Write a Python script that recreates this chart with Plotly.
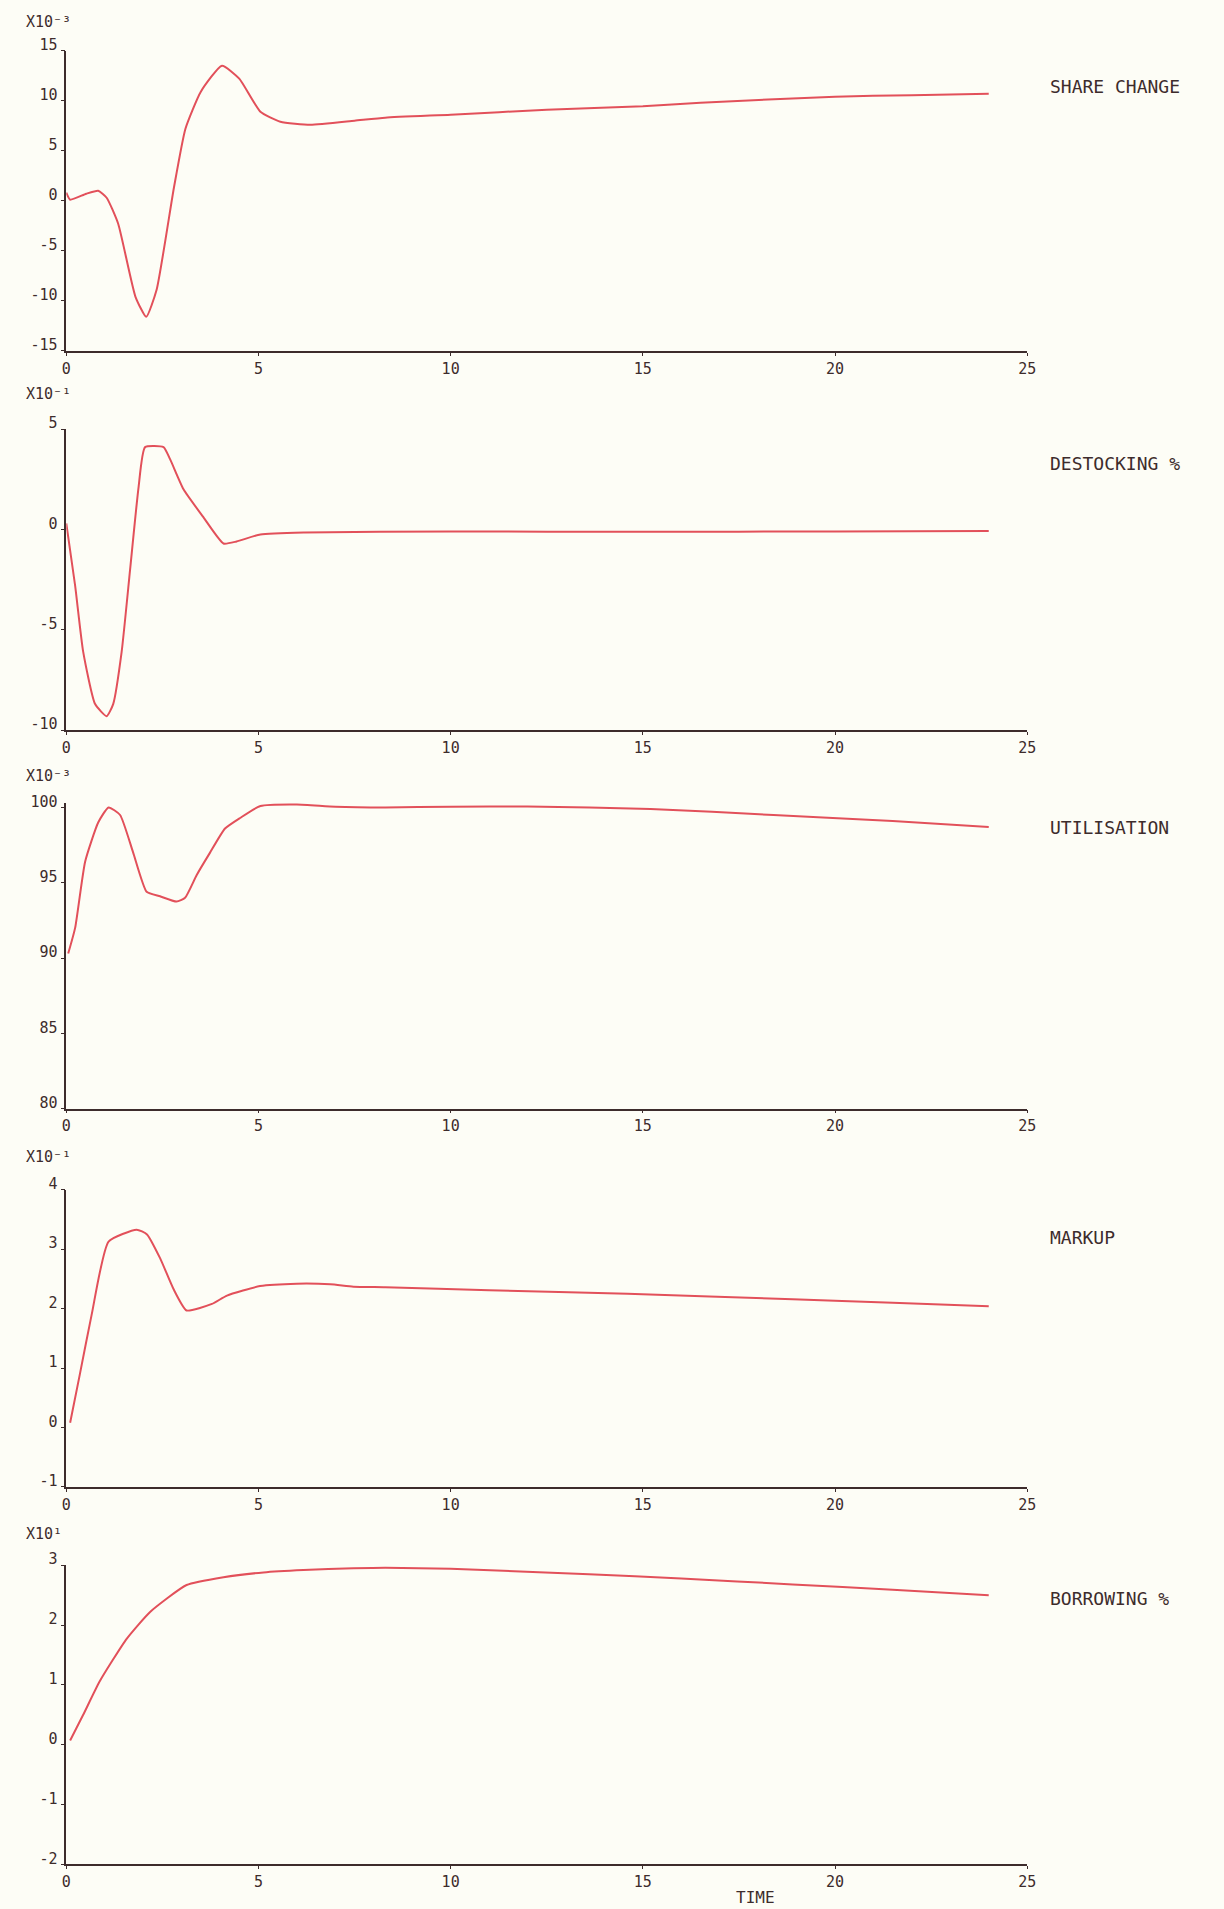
import plotly.graph_objects as go

# ---------------- data (values in the displayed units of each panel) ----------------
share_t = [0, 0.1, 0.52, 0.83, 1.05, 1.35, 1.8, 2.08, 2.35, 2.8, 3.1, 3.5, 4.05, 4.5,
           5.05, 5.57, 6.35, 7.5, 8.3, 10, 12.5, 15, 16.5, 20, 22, 24]
share_v = [0.8, 0.1, 0.7, 1.0, 0.3, -2.3, -9.6, -11.6, -8.9, 1.3, 7.2, 10.9, 13.5, 12.2,
           8.9, 7.9, 7.6, 8.0, 8.3, 8.6, 9.1, 9.45, 9.8, 10.4, 10.55, 10.7]

dest_t = [0, 0.23, 0.44, 0.75, 1.05, 1.22, 1.44, 1.66, 1.88, 2.05, 2.53, 2.7, 3.05,
          3.57, 4.09, 4.43, 5.05, 6.2, 10, 15, 20, 24]
dest_v = [0.3, -2.8, -6.1, -8.7, -9.3, -8.7, -6.1, -2.0, 2.1, 4.1, 4.1, 3.5, 2.0,
          0.6, -0.7, -0.6, -0.25, -0.15, -0.1, -0.12, -0.1, -0.08]

util_t = [0.05, 0.23, 0.49, 0.83, 1.1, 1.4, 1.74, 2.09, 2.44, 2.87, 3.09, 3.39, 3.74,
          4.13, 4.52, 5.05, 6, 7, 8.3, 10, 12, 15.2, 18.4, 21.5, 24]
util_v = [90.3, 92.0, 96.4, 99.0, 100.0, 99.5, 97.0, 94.4, 94.1, 93.75, 94.0, 95.5, 97.0,
          98.6, 99.3, 100.1, 100.2, 100.05, 100.0, 100.05, 100.07, 99.9, 99.5, 99.1, 98.7]

mark_t = [0.1, 0.36, 0.66, 1.1, 1.83, 2.1, 2.44, 2.79, 3.13, 3.79, 4.18, 5.04, 6, 6.87,
          7.47, 8.3, 11, 14.6, 18.9, 21.5, 24]
mark_v = [0.08, 0.92, 1.9, 3.13, 3.33, 3.25, 2.85, 2.33, 1.97, 2.08, 2.22, 2.38, 2.42, 2.41,
          2.37, 2.36, 2.31, 2.25, 2.16, 2.10, 2.04]

borr_t = [0.1, 0.44, 0.87, 1.57, 2.18, 3.13, 4.09, 5.13, 6.17, 7.47, 8.3, 10, 13.6, 16,
          18.9, 21.5, 24]
borr_v = [0.07, 0.5, 1.06, 1.77, 2.22, 2.67, 2.8, 2.88, 2.92, 2.95, 2.96, 2.94, 2.85, 2.78,
          2.68, 2.59, 2.5]

x_ticks = [0, 5, 10, 15, 20, 25]
x_tick_text = ["0", "5", "10", "15", "20", "25"]

panel_names = ["SHARE CHANGE", "DESTOCKING %", "UTILISATION", "MARKUP", "BORROWING %"]
panel_mult = ["X10⁻³", "X10⁻¹", "X10⁻³", "X10⁻¹", "X10¹"]
y_ticks = [
    [15, 10, 5, 0, -5, -10, -15],
    [5, 0, -5, -10],
    [100, 95, 90, 85, 80],
    [4, 3, 2, 1, 0, -1],
    [3, 2, 1, 0, -1, -2],
]
y_ranges = [[-15, 15], [-10, 5], [80, 100.3], [-1, 4], [-2, 3]]
series_t = [share_t, dest_t, util_t, mark_t, borr_t]
series_v = [share_v, dest_v, util_v, mark_v, borr_v]

# ---------------- layout constants ----------------
W, H = 1224, 1909
BG = "#fdfdf6"
INK = "#3d2c2c"
RED = "#e2505a"
FONT = "DejaVu Sans Mono"


def px_x(p):
    return p / W


def px_y(p):
    return 1 - p / H


x_dom = [px_x(62), px_x(1034)]
# pixel positions of highest / lowest tick of each panel
y_pix = [(36, 339), (418, 722), (800, 1104), (1186, 1486), (1565, 1867)]
mult_y = [7, 383, 768, 1153, 1533]
name_y = [72, 453, 820, 1234, 1599]

fig = go.Figure()
layout = dict(
    width=W, height=H, autosize=False,
    paper_bgcolor=BG, plot_bgcolor=BG,
    margin=dict(l=0, r=0, t=0, b=0),
    showlegend=False,
    font=dict(family=FONT, color=INK, size=14),
)
annotations = []

for i in range(5):
    n = "" if i == 0 else str(i + 1)
    fig.add_trace(go.Scatter(
        x=series_t[i], y=series_v[i], mode="lines",
        line=dict(color=RED, width=2, shape="spline", smoothing=0.5),
        xaxis="x" + n, yaxis="y" + n, hoverinfo="skip",
    ))
    top, bot = y_pix[i]
    t_hi, t_lo = max(y_ticks[i]), min(y_ticks[i])
    ppu = (bot - top) / (t_hi - t_lo)
    dom_top = top - (y_ranges[i][1] - t_hi) * ppu
    dom_bot = bot + (t_lo - y_ranges[i][0]) * ppu
    layout["xaxis" + n] = dict(
        domain=x_dom, range=[0, 25], anchor="y" + n,
        tickmode="array", tickvals=x_ticks, ticktext=x_tick_text,
        showline=True, linecolor=INK, linewidth=1.5,
        ticks="outside", ticklen=3, tickcolor=INK,
        showgrid=False, zeroline=False,
        tickfont=dict(family=FONT, size=15, color=INK),
    )
    layout["yaxis" + n] = dict(
        domain=[px_y(dom_bot), px_y(dom_top)], range=y_ranges[i], anchor="x" + n,
        tickmode="array", tickvals=y_ticks[i], ticktext=[str(v) for v in y_ticks[i]],
        showline=True, linecolor=INK, linewidth=1.5,
        ticks="outside", ticklen=4, tickcolor=INK,
        ticklabelshift=-6,
        showgrid=False, zeroline=False,
        tickfont=dict(family=FONT, size=15, color=INK),
    )
    annotations.append(dict(
        xref="paper", yref="paper", x=px_x(19), y=px_y(mult_y[i]),
        xanchor="left", yanchor="middle", showarrow=False,
        text=panel_mult[i], font=dict(family=FONT, size=15, color=INK),
    ))
    annotations.append(dict(
        xref="paper", yref="paper", x=px_x(1055), y=px_y(name_y[i]),
        xanchor="left", yanchor="middle", showarrow=False,
        text=panel_names[i], font=dict(family=FONT, size=18, color=INK),
    ))

annotations.append(dict(
    xref="paper", yref="paper", x=px_x(759), y=px_y(1900),
    xanchor="center", yanchor="middle", showarrow=False,
    text="TIME", font=dict(family=FONT, size=16, color=INK),
))
layout["annotations"] = annotations
fig.update_layout(**layout)

page_js = (
    "var gd=document.getElementById('{plot_id}');"
    "gd.style.position='absolute';gd.style.top='0px';gd.style.left='0px';"
    "document.documentElement.style.margin='0';"
    "document.documentElement.style.overflow='hidden';"
    "document.body.style.margin='0';"
    "document.body.style.padding='0';"
    "document.body.style.overflow='hidden';"
    "document.body.style.background='" + BG + "';"
)
fig.write_html("out.html", post_script=page_js, config={"displayModeBar": False})
